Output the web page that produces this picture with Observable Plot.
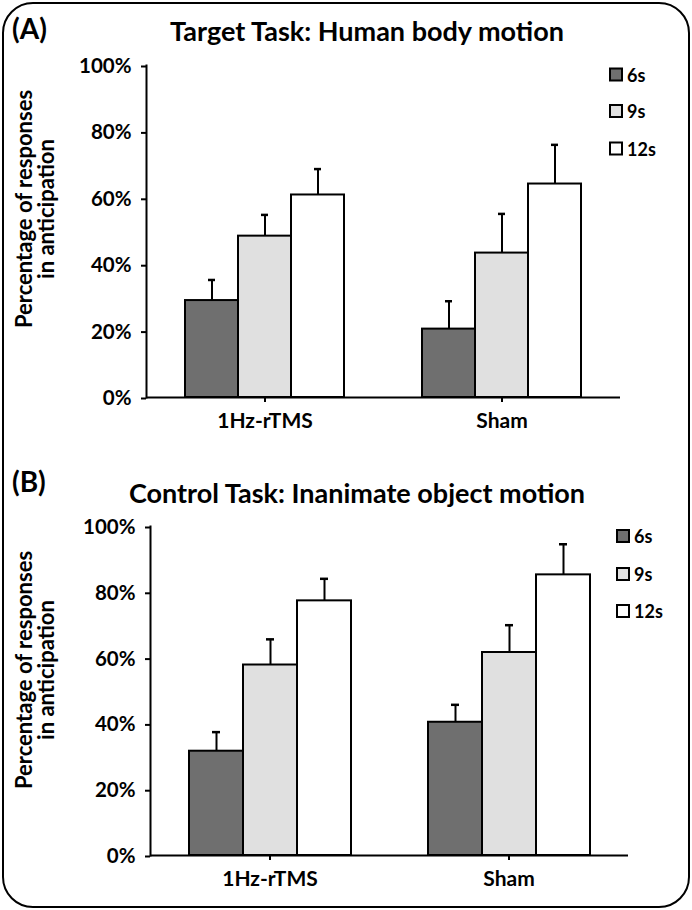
<!DOCTYPE html>
<html>
<head>
<meta charset="utf-8">
<script src="https://cdn.jsdelivr.net/npm/d3@7"></script>
<script src="https://cdn.jsdelivr.net/npm/@observablehq/plot@0.6"></script>
<style>
  html, body { margin: 0; padding: 0; background: #fff; }
  #page { position: relative; width: 692px; height: 910px; overflow: hidden; background: #fff; font-family: Lato, "Open Sans", sans-serif; }
  #page > svg.plot { position: absolute; left: 0; }
  #overlay { position: absolute; left: 0; top: 0; pointer-events: none; }
  #overlay text { font-family: Lato, "Open Sans", sans-serif; font-weight: bold; fill: #000; }
</style>
</head>
<body>
<div id="page"></div>
<script>
// ---- data ----
const conditions = ["1Hz-rTMS", "Sham"];
const durations = ["6s", "9s", "12s"];
const yTicks = [0, 20, 40, 60, 80, 100];

// Target task: human body motion (% responses in anticipation, mean and upper error)
const targetRtms = [29.2, 48.6, 61.0];
const targetRtmsErr = [6.2, 6.4, 7.8];
const targetSham = [20.6, 43.5, 64.3];
const targetShamErr = [8.4, 11.8, 11.8];

// Control task: inanimate object motion
const controlRtms = [31.7, 57.9, 77.4];
const controlRtmsErr = [5.8, 7.8, 6.7];
const controlSham = [40.5, 61.7, 85.3];
const controlShamErr = [5.3, 8.3, 9.3];

const panelTitles = ["Target Task: Human body motion", "Control Task: Inanimate object motion"];
const panelLetters = ["(A)", "(B)"];
const yLabelLines = ["Percentage of responses", "in anticipation"];
const fills = ["#6f6f6f", "#e0e0e0", "#ffffff"];

function rows(cond, means, errs) {
  return durations.map((dur, i) => ({cond, dur, val: means[i], hi: means[i] + errs[i]}));
}
const targetData = [...rows(conditions[0], targetRtms, targetRtmsErr), ...rows(conditions[1], targetSham, targetShamErr)];
const controlData = [...rows(conditions[0], controlRtms, controlRtmsErr), ...rows(conditions[1], controlSham, controlShamErr)];

function panel(data, m) {
  return Plot.plot({
    width: 692,
    height: m.h,
    marginLeft: m.left,
    marginRight: m.right,
    marginTop: m.top,
    marginBottom: m.bottom,
    style: {fontFamily: "Lato, 'Open Sans', sans-serif", fontWeight: "bold", fontSize: "20px", background: "transparent", color: "#000", overflow: "visible"},
    fx: {domain: conditions, padding: 0, label: null},
    x: {domain: durations, paddingInner: 0, paddingOuter: 0.7, axis: null},
    y: {domain: [0, 100], label: null},
    color: {domain: durations, range: fills},
    marks: [
      Plot.barY(data, {fx: "cond", x: "dur", y: "val", fill: "dur", stroke: "#000", strokeWidth: 2, inset: 0}),
      Plot.ruleX(data, {fx: "cond", x: "dur", y1: "val", y2: "hi", stroke: "#000", strokeWidth: 2}),
      Plot.tickY(data, {fx: "cond", x: "dur", y: "hi", stroke: "#000", strokeWidth: 2.5, insetLeft: 23, insetRight: 23}),
      Plot.ruleY([0], {stroke: "#000", strokeWidth: 2}),
      Plot.frame({anchor: "left", facetAnchor: "left", stroke: "#000", strokeWidth: 2}),
      Plot.axisY({ticks: yTicks, tickFormat: d => d + "%", tickSize: 5, tickPadding: 10, strokeWidth: 2, fontSize: 20.5, dy: 1, label: null}),
      Plot.axisFx({anchor: "bottom", tickSize: 5, tickPadding: 11, strokeWidth: 2, fontSize: 21, label: null})
    ]
  });
}

const page = document.getElementById("page");
const plotA = panel(targetData, {h: 440, left: 145, right: 72, top: 65, bottom: 43});
plotA.classList.add("plot");
plotA.style.top = "0px";
plotA.style.position = "absolute";
page.appendChild(plotA);

const plotB = panel(controlData, {h: 440, left: 150, right: 64, top: 66, bottom: 45});
plotB.classList.add("plot");
plotB.style.top = "460px";
plotB.style.position = "absolute";
page.appendChild(plotB);

// ---- overlay: border, titles, y labels, legends ----
const ns = "http://www.w3.org/2000/svg";
const ov = document.createElementNS(ns, "svg");
ov.setAttribute("id", "overlay");
ov.setAttribute("width", 692);
ov.setAttribute("height", 910);
page.appendChild(ov);
function el(tag, attrs, text) {
  const e = document.createElementNS(ns, tag);
  for (const k in attrs) e.setAttribute(k, attrs[k]);
  if (text != null) e.textContent = text;
  ov.appendChild(e);
  return e;
}
el("rect", {x: 3, y: 3, width: 686, height: 904, rx: 30, ry: 30, fill: "none", stroke: "#000", "stroke-width": 2});

const layout = [
  {letterY: 39, titleX: 367, titleY: 41, labelY: 209, legX: 610, legY: [74.5, 111, 148.5]},
  {letterY: 492, titleX: 357, titleY: 503, labelY: 670, legX: 617, legY: [536, 574, 611]}
];
layout.forEach((L, p) => {
  el("text", {x: 12, y: L.letterY, "font-size": 28}, panelLetters[p]);
  el("text", {x: L.titleX, y: L.titleY, "font-size": 27, "text-anchor": "middle"}, panelTitles[p]);
  el("text", {transform: `translate(32,${L.labelY}) rotate(-90)`, "font-size": 22, "text-anchor": "middle"}, yLabelLines[0]);
  el("text", {transform: `translate(54,${L.labelY}) rotate(-90)`, "font-size": 22, "text-anchor": "middle"}, yLabelLines[1]);
  durations.forEach((d, i) => {
    el("rect", {x: L.legX, y: L.legY[i] - 6, width: 12, height: 12, fill: fills[i], stroke: "#000", "stroke-width": 2});
    el("text", {x: L.legX + 17, y: L.legY[i] + 7, "font-size": 18}, d);
  });
});
</script>
</body>
</html>
